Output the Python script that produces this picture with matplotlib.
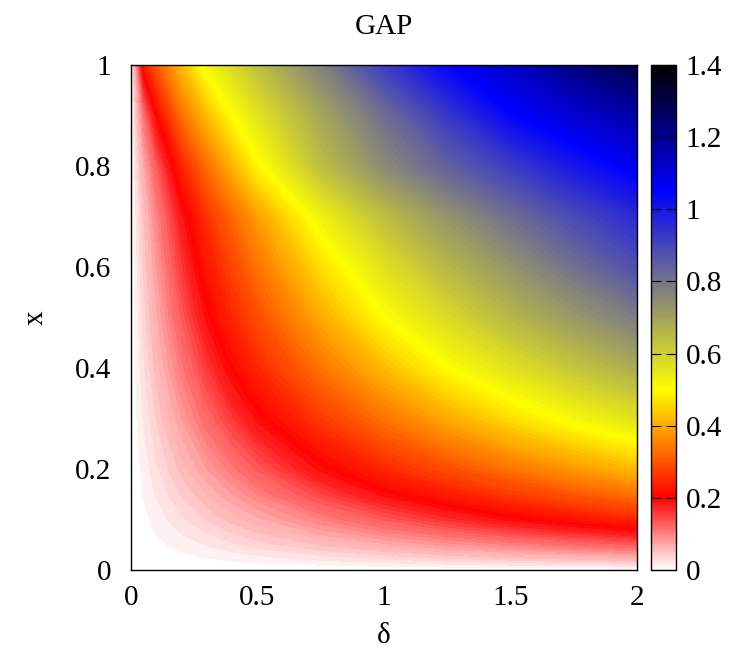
import numpy as np
import matplotlib
matplotlib.use("Agg")
import matplotlib.pyplot as plt
from matplotlib.colors import LinearSegmentedColormap, Normalize
from matplotlib.cm import ScalarMappable
from matplotlib.ticker import FormatStrFormatter

plt.rcParams['font.family'] = ['Liberation Serif', 'DejaVu Serif']

# grid
delta = [0, 0.05, 0.1, 0.2, 0.3, 0.4, 0.5, 0.75, 1.0, 1.25, 1.5, 1.75, 2.0]
xs = [0, 0.025, 0.05, 0.1, 0.15, 0.2, 0.3, 0.4, 0.5, 0.6, 0.7, 0.8, 0.9, 1.0]

# one row per x value, columns follow delta
gap = [
    [0, 0, 0, 0, 0, 0, 0, 0, 0, 0, 0, 0, 0],
    [0, 0.0018, 0.0035, 0.007, 0.0105, 0.014, 0.0175, 0.026, 0.0345, 0.043, 0.051, 0.059, 0.067],
    [0, 0.0035, 0.007, 0.014, 0.021, 0.028, 0.0345, 0.051, 0.067, 0.084, 0.1, 0.116, 0.132],
    [0, 0.007, 0.014, 0.028, 0.041, 0.054, 0.067, 0.1, 0.132, 0.164, 0.195, 0.22, 0.245],
    [0, 0.0105, 0.021, 0.041, 0.06, 0.08, 0.1, 0.148, 0.195, 0.233, 0.268, 0.301, 0.335],
    [0, 0.014, 0.028, 0.054, 0.08, 0.106, 0.132, 0.195, 0.245, 0.29, 0.335, 0.378, 0.42],
    [0, 0.021, 0.041, 0.08, 0.119, 0.157, 0.195, 0.268, 0.335, 0.4, 0.46, 0.516, 0.565],
    [0, 0.028, 0.054, 0.106, 0.157, 0.205, 0.245, 0.335, 0.42, 0.5, 0.565, 0.625, 0.68],
    [0, 0.0345, 0.067, 0.132, 0.195, 0.245, 0.29, 0.4, 0.5, 0.58, 0.655, 0.72, 0.78],
    [0, 0.041, 0.08, 0.157, 0.225, 0.28, 0.335, 0.46, 0.565, 0.655, 0.73, 0.805, 0.88],
    [0, 0.05, 0.096, 0.185, 0.258, 0.322, 0.385, 0.53, 0.64, 0.73, 0.81, 0.89, 0.96],
    [0, 0.07, 0.13, 0.24, 0.33, 0.41, 0.49, 0.64, 0.75, 0.84, 0.92, 1.0, 1.07],
    [0, 0.11, 0.2, 0.33, 0.42, 0.5, 0.56, 0.69, 0.81, 0.93, 1.04, 1.11, 1.17],
    [0, 0.22, 0.3, 0.42, 0.52, 0.58, 0.64, 0.77, 0.92, 1.04, 1.13, 1.22, 1.3],
]

cb_ticks = [0, 0.2, 0.4, 0.6, 0.8, 1.0, 1.2, 1.4]
x_ticks = [0, 0.5, 1, 1.5, 2]
y_ticks = [0, 0.2, 0.4, 0.6, 0.8, 1.0]

zmax = 1.4
cmap = LinearSegmentedColormap.from_list(
    "gap", [(0, "white"), (0.2 / zmax, "red"), (0.5 / zmax, "yellow"),
            (1.05 / zmax, "blue"), (1.0, "black")])
norm = Normalize(0, zmax)

fs = 21
fig = plt.figure(figsize=(7.37, 6.5), dpi=100)
ax = fig.add_axes([131 / 737, 80 / 650, 506 / 737, 505 / 650])
cax = fig.add_axes([651 / 737, 80 / 650, 25 / 737, 505 / 650])

ax.contourf(delta, xs, np.array(gap), levels=np.linspace(0, zmax, 141),
            cmap=cmap, norm=norm)
ax.set_xlim(0, 2)
ax.set_ylim(0, 1)
ax.set_xticks(x_ticks)
ax.set_yticks(y_ticks)
ax.xaxis.set_major_formatter(FormatStrFormatter('%g'))
ax.yaxis.set_major_formatter(FormatStrFormatter('%g'))
ax.tick_params(length=0, labelsize=fs, pad=11)
ax.tick_params(axis='y', pad=14)
for s in ax.spines.values():
    s.set_linewidth(1.0)
ax.set_xlabel('δ', fontsize=fs, va='center')
ax.xaxis.set_label_coords(0.5, -0.13)
ax.set_ylabel('x', fontsize=fs, labelpad=19)
ax.set_title('GAP', fontsize=fs, pad=22)

cb = fig.colorbar(ScalarMappable(norm=norm, cmap=cmap), cax=cax)
cb.set_ticks(cb_ticks)
cb.ax.yaxis.set_major_formatter(FormatStrFormatter('%g'))
cb.ax.tick_params(direction='in', length=7, width=0.8, labelsize=fs, pad=7,
                  left=True, right=True)
cb.outline.set_linewidth(1.0)

fig.savefig("out.png", dpi=100)
